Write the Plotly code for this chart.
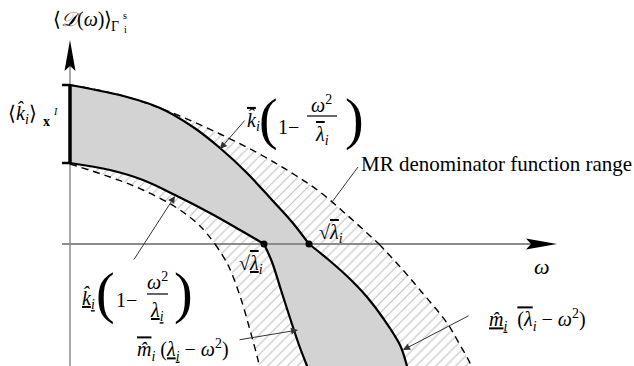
import plotly.graph_objects as go

W, H = 634, 366
SERIF = "Liberation Serif"

# ---- boundary curves of the denominator range (omega, D) ----
upper_solid_w = [0, 0.57, 0.90, 1.23, 1.50, 1.77, 2.02, 2.22, 2.39, 2.60, 2.80, 2.97, 3.13, 3.30, 3.37, 3.40]
upper_solid_d = [1.59, 1.47, 1.36, 1.17, 0.96, 0.71, 0.44, 0.22, 0.0, -0.17, -0.35, -0.53, -0.74, -1.01, -1.22, -1.34]

lower_solid_w = [0, 0.40, 0.73, 1.05, 1.40, 1.70, 1.94, 2.02, 2.11, 2.20, 2.29, 2.37, 2.42]
lower_solid_d = [0.81, 0.74, 0.64, 0.49, 0.31, 0.14, 0.0, -0.18, -0.46, -0.74, -1.01, -1.22, -1.36]

upper_dash_w = [0, 0.50, 1.00, 1.50, 1.95, 2.25, 2.50, 2.77, 3.09, 3.33, 3.50, 3.77, 3.90, 4.00, 4.06]
upper_dash_d = [1.59, 1.49, 1.32, 1.10, 0.87, 0.69, 0.52, 0.29, 0.0, -0.26, -0.46, -0.79, -1.01, -1.19, -1.34]

lower_dash_w = [0, 0.40, 0.73, 1.07, 1.30, 1.45, 1.58, 1.70, 1.80, 1.88, 1.92]
lower_dash_d = [0.80, 0.67, 0.54, 0.36, 0.18, 0.0, -0.21, -0.52, -0.86, -1.16, -1.34]

k_range = [0.81, 1.59]          # bounds of <k̂_i>
sqrt_lambda = [1.94, 2.39]      # zero crossings sqrt(lambda_lower), sqrt(lambda_upper)

# plot window in (omega, D) units
X_RANGE = [-0.70, 5.64]
Y_RANGE = [-1.22, 2.44]

GRAY_FILL = "#d3d3d3"
HATCH = dict(shape="/", fgcolor="#858585", bgcolor="white", size=7, solidity=0.17)
AXIS_GRAY = "#8c8c8c"
SMOOTH = 1.0

fig = go.Figure()

# ---- fills: hatched inner band, gray band, hatched outer band ----
fig.add_trace(go.Scatter(x=lower_dash_w, y=lower_dash_d, mode="lines",
                         line=dict(width=0, shape="spline", smoothing=SMOOTH)))
fig.add_trace(go.Scatter(x=lower_solid_w, y=lower_solid_d, mode="lines",
                         line=dict(width=0, shape="spline", smoothing=SMOOTH),
                         fill="tonexty", fillcolor="white", fillpattern=HATCH))
fig.add_trace(go.Scatter(x=upper_solid_w, y=upper_solid_d, mode="lines",
                         line=dict(width=0, shape="spline", smoothing=SMOOTH),
                         fill="tonexty", fillcolor=GRAY_FILL))
fig.add_trace(go.Scatter(x=upper_dash_w, y=upper_dash_d, mode="lines",
                         line=dict(width=0, shape="spline", smoothing=SMOOTH),
                         fill="tonexty", fillcolor="white", fillpattern=HATCH))

# ---- coordinate axes ----
fig.add_trace(go.Scatter(x=[-0.08, 4.80], y=[0, 0], mode="lines",
                         line=dict(color=AXIS_GRAY, width=2)))
fig.add_trace(go.Scatter(x=[0, 0], y=[Y_RANGE[0] - 0.1, 1.80], mode="lines",
                         line=dict(color=AXIS_GRAY, width=1.5)))


def split_at_zero(w, d):
    i = d.index(0.0)
    return (w[:i + 1], d[:i + 1]), (w[i:], d[i:])


# ---- outlines ----
for w, d in (split_at_zero(upper_dash_w, upper_dash_d) + split_at_zero(lower_dash_w, lower_dash_d)):
    fig.add_trace(go.Scatter(x=w, y=d, mode="lines",
                             line=dict(color="black", width=1.4, dash="7px,5px",
                                       shape="spline", smoothing=SMOOTH)))
for w, d in (split_at_zero(upper_solid_w, upper_solid_d) + split_at_zero(lower_solid_w, lower_solid_d)):
    fig.add_trace(go.Scatter(x=w, y=d, mode="lines",
                             line=dict(color="black", width=2.2, shape="spline", smoothing=SMOOTH)))

# range bar of <k̂_i> on the vertical axis
fig.add_trace(go.Scatter(x=[0, 0], y=k_range, mode="lines", line=dict(color="black", width=3.5)))
fig.add_trace(go.Scatter(x=[-0.08, 0, None, -0.08, 0],
                         y=[k_range[0], k_range[0], None, k_range[1], k_range[1]],
                         mode="lines", line=dict(color="black", width=2.5)))

# zero-crossing points
fig.add_trace(go.Scatter(x=sqrt_lambda, y=[0, 0], mode="markers",
                         marker=dict(color="black", size=7)))

# ---- arrowheads of the axes ----
shapes = [
    dict(type="path", xref="x", yref="y", path="M4.87,0 L4.56,0.055 L4.61,0 L4.56,-0.055 Z",
         fillcolor="black", line=dict(width=0)),
    dict(type="path", xref="x", yref="y", path="M0,2.04 L-0.055,1.73 L0,1.78 L0.055,1.73 Z",
         fillcolor="black", line=dict(width=0)),
]


def px2paper(px, py):
    return px / W, 1 - py / H


def hline(px0, px1, py, width=1.2):
    x0, y = px2paper(px0, py)
    x1, _ = px2paper(px1, py)
    shapes.append(dict(type="line", xref="paper", yref="paper", x0=x0, x1=x1, y0=y, y1=y,
                       line=dict(color="black", width=width)))


def seg(px0, py0, px1, py1, width=1):
    x0, y0 = px2paper(px0, py0)
    x1, y1 = px2paper(px1, py1)
    shapes.append(dict(type="line", xref="paper", yref="paper", x0=x0, x1=x1, y0=y0, y1=y1,
                       line=dict(color="#333333", width=width)))


def label(text, px, py, size=20):
    x, y = px2paper(px, py)
    fig.add_annotation(x=x, y=y, xref="paper", yref="paper", text=text, showarrow=False,
                       xanchor="center", yanchor="middle",
                       font=dict(family=SERIF, size=size, color="black"))


def leader(px_from, py_from, px_to, py_to):
    x, y = px2paper(px_to, py_to)
    fig.add_annotation(x=x, y=y, xref="paper", yref="paper", text="", showarrow=True,
                       ax=px_from - px_to, ay=py_from - py_to,
                       arrowhead=2, arrowsize=1.4, arrowwidth=1, arrowcolor="#333333",
                       standoff=0, startstandoff=0)


def OV(s):
    return f'<span style="text-decoration:overline">{s}</span>'


def UN(s):
    return f'<span style="text-decoration:underline">{s}</span>'


KHAT = "<i>k\u0302</i>"
MHAT = "<i>m\u0302</i>"
LAM = "<i>\u03bb</i>"
OM = "<i>\u03c9</i>"
SUB_I = "<sub><i>i</i></sub>"

# vertical-axis title
label("\u27e8<i>\U0001D49F</i>(" + OM + ")\u27e9", 82, 20, size=20)
label("\u0393", 115, 27, size=14)
label("s", 125, 15, size=10)
label("i", 125, 30, size=10)

# horizontal-axis title
label(OM, 542, 266, size=22)

# <k̂_i>_{x^I}
label("\u27e8" + KHAT + SUB_I + "\u27e9", 22, 114, size=20)
label("<b>x</b>", 46, 122, size=14)
label("<i>I</i>", 55, 111, size=10)

# upper bound above the axis
label(OV(KHAT) + SUB_I, 253, 121)
label("(", 268, 120, size=56)
label("1\u2212", 288, 127)
label(OM + "<sup>2</sup>", 322, 104)
hline(307, 337, 116)
label(OV(LAM) + SUB_I, 322, 135)
label(")", 354, 120, size=56)
leader(246, 119, 220, 149)

# lower bound above the axis
label(UN(KHAT + SUB_I), 89, 299)
label("(", 106, 293, size=56)
label("1\u2212", 126, 300)
label(OM + "<sup>2</sup>", 157, 281)
hline(147, 168, 294)
label(UN(LAM + SUB_I), 157, 311)
label(")", 183, 293, size=56)
leader(133, 261, 175, 196)

# bounds below the axis
label(OV(MHAT) + SUB_I + " (" + UN(LAM + SUB_I) + " \u2212 " + OM + "<sup>2</sup>)", 183, 350)
leader(238, 340, 298, 330)
label(UN(MHAT + SUB_I) + "  " + OV("(" + LAM) + SUB_I + " \u2212 " + OM + "<sup>2</sup>)", 537, 320)
leader(470, 315, 403, 350)

# zero-crossing labels
label("\u221a" + OV(OV(LAM)) + SUB_I, 331, 233)
label("\u221a" + OV(UN(LAM)) + SUB_I, 251, 264)

# range caption
label("MR denominator function range", 496, 164, size=21)
seg(358, 167, 332, 202)

fig.update_layout(
    width=W, height=H, margin=dict(l=0, r=0, t=0, b=0),
    paper_bgcolor="white", plot_bgcolor="white", showlegend=False,
    font=dict(family=SERIF, color="black"),
    xaxis=dict(visible=False, range=X_RANGE, fixedrange=True),
    yaxis=dict(visible=False, range=Y_RANGE, fixedrange=True),
    shapes=shapes,
)

fig.write_html("out.html")
